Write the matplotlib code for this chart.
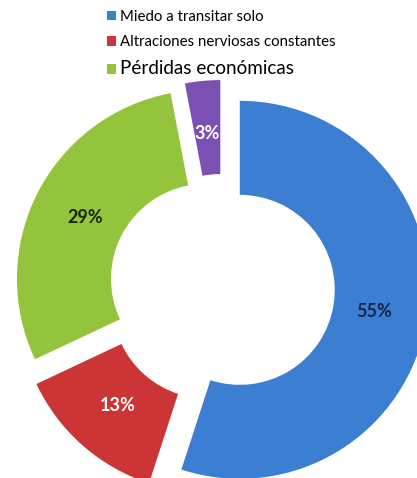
import matplotlib
matplotlib.use("Agg")
import matplotlib.pyplot as plt

# data
labels = ["Miedo a transitar solo", "Altraciones nerviosas constantes",
          "Pérdidas económicas", "Otros"]
values = [55, 13, 29, 3]
colors = ["#3c7fd2", "#cc3535", "#94c43c", "#7a50b2"]
pct_colors = ["#14264a", "white", "#1c2410", "white"]

fig = plt.figure(figsize=(4.17, 4.78), dpi=100)
ax = fig.add_axes([0, 0, 1, 1])

# pie in pixel-like data units: explode and width are absolute here
wedges, texts, autotexts = ax.pie(
    values, colors=colors, startangle=90, counterclock=False,
    center=(222, 191), radius=189, explode=[18, 22, 18, 18],
    autopct="%d%%", pctdistance=0.72,
    wedgeprops=dict(width=94, edgecolor="none"),
    textprops=dict(fontsize=13, fontweight="bold", family="Lato"))
for t, c in zip(autotexts, pct_colors):
    t.set_color(c)

ax.set_xlim(0, 417)
ax.set_ylim(0, 478)
ax.set_aspect("equal")
ax.axis("off")

leg = ax.legend(wedges[:3], labels[:3], loc="upper left",
                bbox_to_anchor=(107 / 417, 1 - 10 / 478), frameon=False,
                handlelength=0.6, handleheight=0.6, handletextpad=0.3,
                labelspacing=0.75, borderpad=0, borderaxespad=0,
                prop=dict(family="Lato", size=10.8))
leg.get_texts()[2].set_fontsize(13.6)

fig.savefig("out.png", dpi=100)
